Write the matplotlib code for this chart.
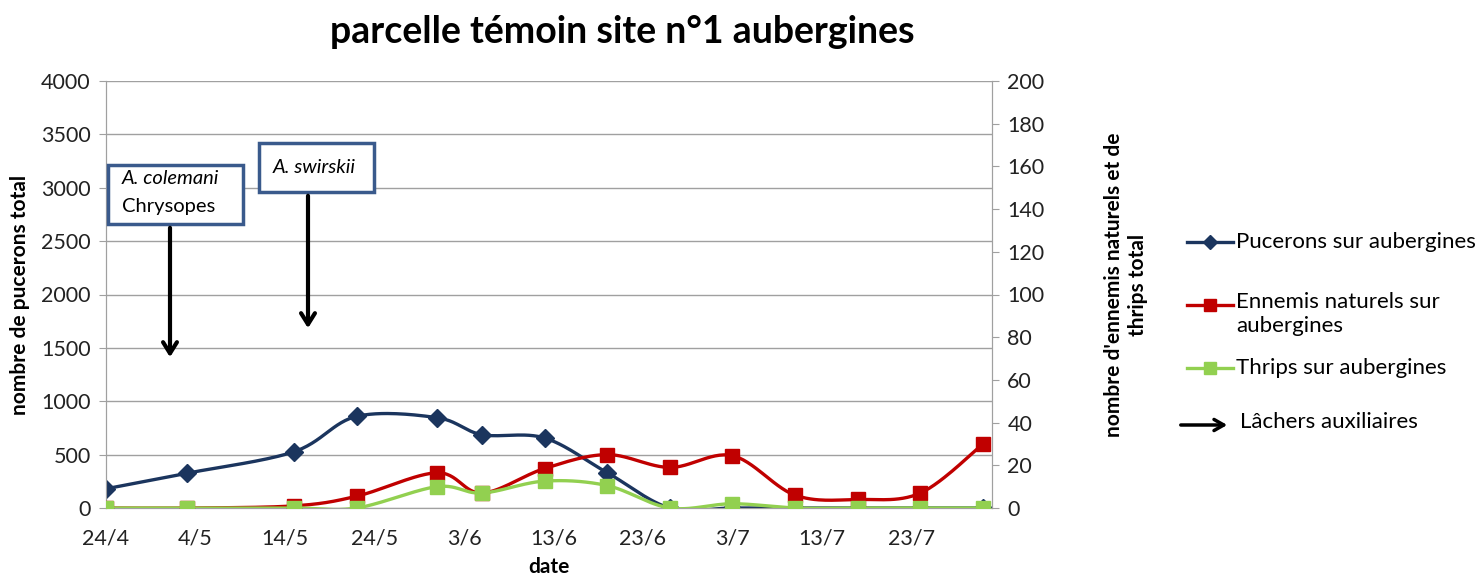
import numpy as np
import pandas as pd
import matplotlib.pyplot as plt
import matplotlib.dates as mdates
from matplotlib.lines import Line2D
from matplotlib.patches import Rectangle, FancyArrowPatch

plt.rcParams['font.family'] = ['Lato', 'DejaVu Sans']

# Data
dates = pd.to_datetime(['2013-04-24', '2013-05-03', '2013-05-15', '2013-05-22', '2013-05-31',
                        '2013-06-05', '2013-06-12', '2013-06-19', '2013-06-26', '2013-07-03',
                        '2013-07-10', '2013-07-17', '2013-07-24', '2013-07-31'])
pucerons = [180, 325, 527, 858, 846, 687, 656, 331, 0, 0, 0, 0, 0, 0]
ennemis = [0, 0, 1, 5.5, 16.5, 7, 18.5, 25, 19, 24.5, 6, 4, 7, 30]
thrips = [0, 0, 0, 0, 10, 7, 12.6, 10.5, 0, 2, 0, 0, 0, 0]

tick_dates = pd.to_datetime(['2013-04-24', '2013-05-04', '2013-05-14', '2013-05-24', '2013-06-03',
                             '2013-06-13', '2013-06-23', '2013-07-03', '2013-07-13', '2013-07-23'])
tick_labels = ['24/4', '4/5', '14/5', '24/5', '3/6', '13/6', '23/6', '3/7', '13/7', '23/7']

BLUE = '#1b355e'
RED = '#c00000'
GREEN = '#92d050'
BOX = '#3a5a8c'
GRID = '#a0a0a0'


def smooth(x, y, n=30):
    # Catmull-Rom style smoothing, like Excel's "smoothed line"
    x = np.asarray(x, float)
    y = np.asarray(y, float)
    px = np.concatenate([[x[0]], x, [x[-1]]])
    py = np.concatenate([[y[0]], y, [y[-1]]])
    xs, ys = [], []
    t = np.linspace(0, 1, n)
    for i in range(1, len(px) - 2):
        p0 = np.array([px[i], py[i]])
        p3 = np.array([px[i + 1], py[i + 1]])
        c1 = p0 + (np.array([px[i + 1], py[i + 1]]) - np.array([px[i - 1], py[i - 1]])) / 6
        c2 = p3 - (np.array([px[i + 2], py[i + 2]]) - np.array([px[i], py[i]])) / 6
        b = ((1 - t) ** 3)[:, None] * p0 + (3 * (1 - t) ** 2 * t)[:, None] * c1 \
            + (3 * (1 - t) * t ** 2)[:, None] * c2 + (t ** 3)[:, None] * p3
        xs.append(b[:, 0])
        ys.append(b[:, 1])
    return np.concatenate(xs), np.concatenate(ys)


xnum = mdates.date2num(dates)

fig = plt.figure(figsize=(14.8, 5.79), dpi=100)
ax = fig.add_axes([106 / 1480, 1 - 508 / 579, (992 - 106) / 1480, (508 - 81) / 579])
ax2 = ax.twinx()

sx, sy = smooth(xnum, pucerons)
ax.plot(sx, sy, color=BLUE, lw=2.4, zorder=3)
ax.plot(xnum, pucerons, ls='none', marker='D', ms=9.5, color=BLUE, zorder=4)

sx, sy = smooth(xnum, ennemis)
ax2.plot(sx, sy, color=RED, lw=2.4, zorder=3)
ax2.plot(xnum, ennemis, ls='none', marker='s', ms=9.5, color=RED, zorder=4)
sx, sy = smooth(xnum, thrips)
ax2.plot(sx, sy, color=GREEN, lw=2.4, zorder=5)
ax2.plot(xnum, thrips, ls='none', marker='s', ms=9.5, color=GREEN, zorder=6)

ax.set_ylim(0, 4000)
ax.set_yticks(range(0, 4001, 500))
ax2.set_ylim(0, 200)
ax2.set_yticks(range(0, 201, 20))
ax.set_xlim(mdates.date2num(pd.Timestamp('2013-04-24')), mdates.date2num(pd.Timestamp('2013-08-01')))
ax.set_xticks(mdates.date2num(tick_dates))
ax.set_xticklabels(tick_labels)

ax.grid(axis='y', color=GRID, lw=1)
ax.set_axisbelow(True)
for a in (ax, ax2):
    for s in a.spines.values():
        s.set_color(GRID)
    a.spines['top'].set_visible(False)
    a.tick_params(labelsize=15.5, labelcolor='#222222', color=GRID, length=5)
ax.tick_params(axis='x', length=0, pad=15)
ax.tick_params(axis='y', pad=6)
ax2.tick_params(axis='y', pad=6)

ax.set_xlabel('date', fontsize=15, fontweight='bold', labelpad=6)
ax.set_ylabel('nombre de pucerons total', fontsize=15, fontweight='bold', labelpad=8)
fig.text(1126 / 1480, 1 - 285 / 579, "nombre d'ennemis naturels et de\nthrips total",
         rotation=90, ha='center', va='center', fontsize=15, fontweight='bold', linespacing=1.2)

fig.suptitle('parcelle témoin site n°1 aubergines', x=622 / 1480, y=1 - 32 / 579,
             fontsize=27, fontweight='bold', va='center')


def fx(px):
    return px / 1480


def fy(py):
    return 1 - py / 579


# release boxes and arrows
fig.add_artist(Rectangle((fx(108), fy(224)), fx(243) - fx(108), fy(165) - fy(224),
                         transform=fig.transFigure, fill=True, facecolor='white',
                         edgecolor=BOX, lw=2.5, zorder=10))
fig.text(fx(122), fy(179), 'A. colemani', style='italic', fontsize=14.5, va='center', zorder=11)
fig.text(fx(122), fy(206), 'Chrysopes', fontsize=14.5, va='center', zorder=11)
fig.add_artist(Rectangle((fx(259), fy(192)), fx(374) - fx(259), fy(143) - fy(192),
                         transform=fig.transFigure, fill=True, facecolor='white',
                         edgecolor=BOX, lw=2.5, zorder=10))
fig.text(fx(273), fy(167), 'A. swirskii', style='italic', fontsize=14.5, va='center', zorder=11)

for x0, y0, y1 in [(170, 225, 360), (308, 193, 331)]:
    fig.add_artist(FancyArrowPatch((fx(x0), fy(y0)), (fx(x0), fy(y1)), transform=fig.transFigure,
                                   arrowstyle='->,head_length=8,head_width=5', lw=3,
                                   color='black', zorder=10))

# legend
legend_items = [(242, BLUE, 'D', 'Pucerons sur aubergines'),
                (305, RED, 's', 'Ennemis naturels sur\naubergines'),
                (368, GREEN, 's', 'Thrips sur aubergines')]
for yy, col, mk, lab in legend_items:
    fig.add_artist(Line2D([fx(1187), fx(1233)], [fy(yy), fy(yy)], transform=fig.transFigure,
                          color=col, lw=2.4))
    fig.add_artist(Line2D([fx(1210)], [fy(yy)], transform=fig.transFigure, color=col,
                          marker=mk, ms=8.5 if mk == 's' else 7.5))
    if '\n' in lab:
        fig.text(fx(1236), fy(292), lab, fontsize=16, va='top', linespacing=1.25)
    else:
        fig.text(fx(1236), fy(yy), lab, fontsize=16, va='center')

fig.add_artist(FancyArrowPatch((fx(1178), fy(425)), (fx(1230), fy(425)), transform=fig.transFigure,
                               arrowstyle='->,head_length=7,head_width=4', lw=2.5, color='black'))
fig.text(fx(1240), fy(422), 'Lâchers auxiliaires', fontsize=16, va='center')

plt.savefig('out.png', dpi=100)
